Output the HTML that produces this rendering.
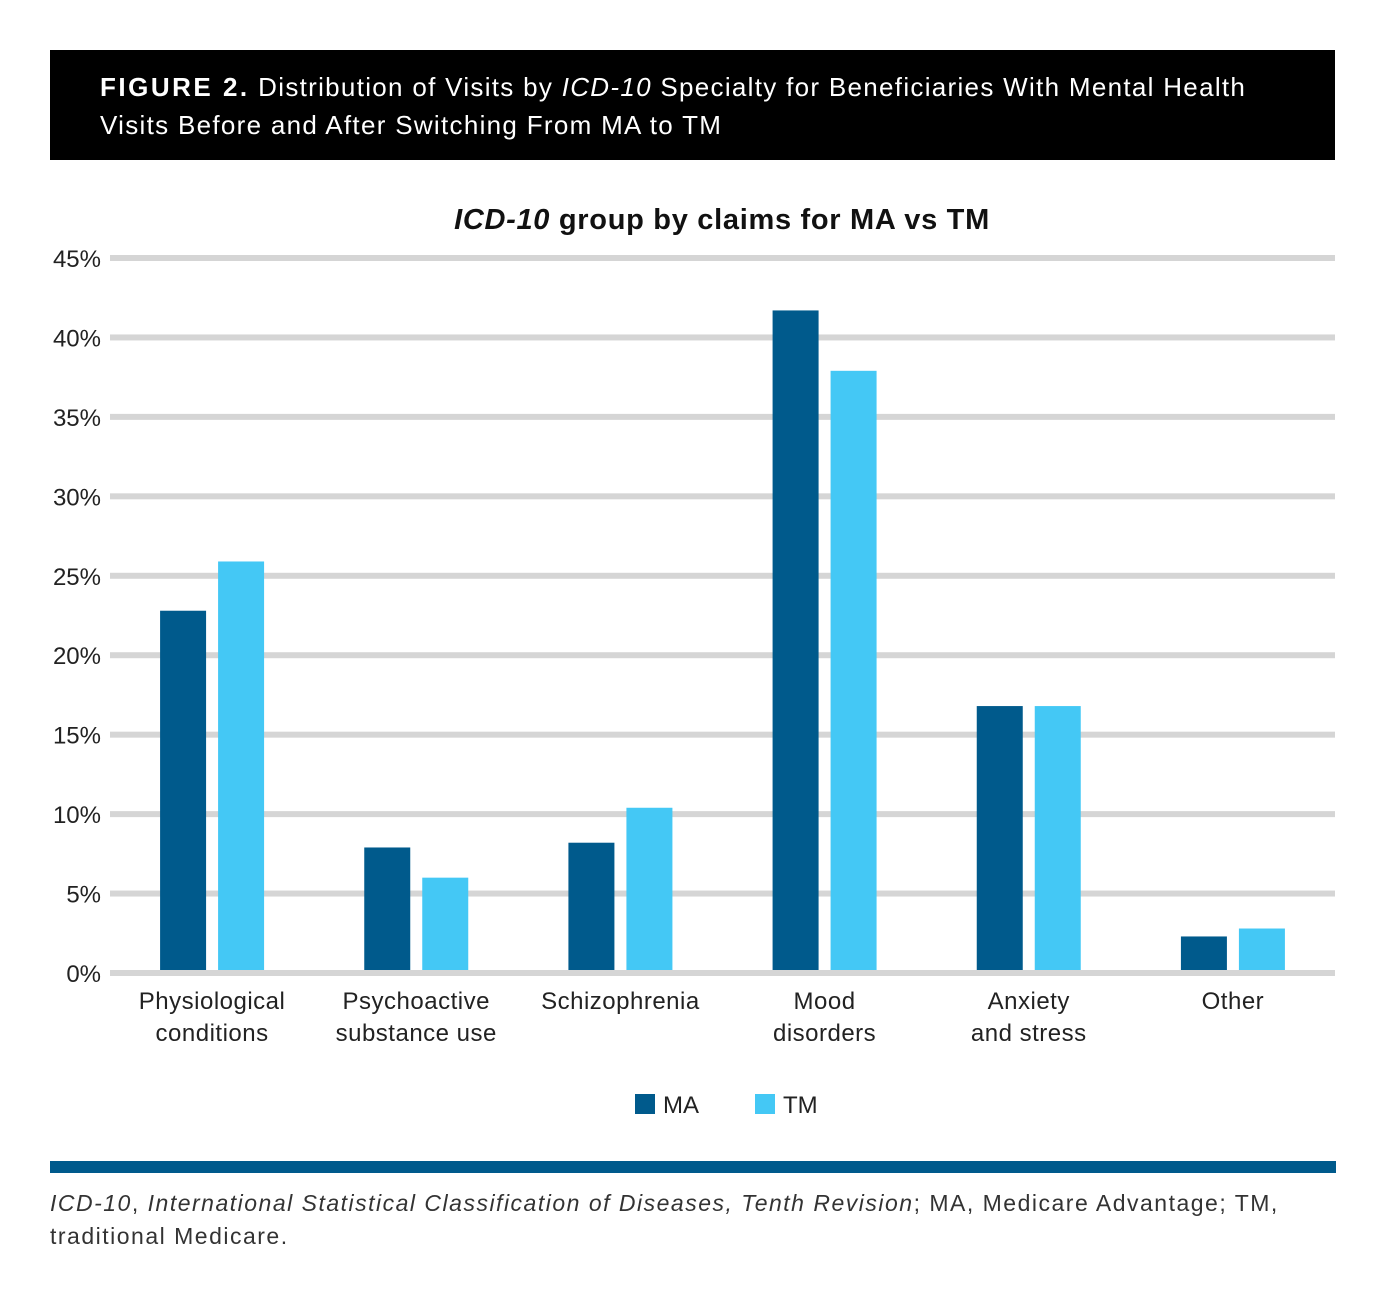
<!DOCTYPE html>
<html><head><meta charset="utf-8"><style>
body{margin:0;width:1386px;height:1313px;background:#fff;font-family:"Liberation Sans",sans-serif;position:relative;overflow:hidden}
#hdr{position:absolute;left:50px;top:50px;width:1285px;height:110px;background:#000;color:#fff;font-size:26px;line-height:38px;box-sizing:border-box;padding:18px 0 0 50px;letter-spacing:1.3px}
#rule{position:absolute;left:50px;top:1161px;width:1286px;height:12px;background:#005a8c}
#foot{position:absolute;left:50px;top:1187px;font-size:23px;line-height:33px;color:#333;letter-spacing:1.5px}
</style></head><body>
<div id="hdr"><b style="letter-spacing:2.5px">FIGURE 2.</b> Distribution of Visits by <i>ICD-10</i> Specialty for Beneficiaries With Mental Health<br>Visits Before and After Switching From MA to TM</div>
<svg id="chart" width="1386" height="1313" style="position:absolute;left:0;top:0"></svg>
<div id="rule"></div>
<div id="foot"><i>ICD-10</i>, <i>International Statistical Classification of Diseases, Tenth Revision</i>; MA, Medicare Advantage; TM,<br>traditional Medicare.</div>
<script>
const categories=[["Physiological","conditions"],["Psychoactive","substance use"],["Schizophrenia"],["Mood","disorders"],["Anxiety","and stress"],["Other"]];
const maValues=[22.8,7.9,8.2,41.7,16.8,2.3];
const tmValues=[25.9,6.0,10.4,37.9,16.8,2.8];
const yTicks=[0,5,10,15,20,25,30,35,40,45];
const NS="http://www.w3.org/2000/svg";
const svg=document.getElementById('chart');
const x0=110,x1=1335,y0=973,yTop=258;
const y=v=>y0-(v/45)*(y0-yTop);
const band=(x1-x0)/categories.length;
const cx=i=>x0+band*(i+0.5);
function mk(t,a){const e=document.createElementNS(NS,t);for(const k in a)e.setAttribute(k,a[k]);svg.appendChild(e);return e;}
let t=mk('text',{x:722,y:229,'text-anchor':'middle','font-size':29,'font-weight':'bold',fill:'#111','letter-spacing':'0.7'});


t.innerHTML='<tspan font-style="italic">ICD-10</tspan> group by claims for MA vs TM';
yTicks.forEach(v=>{
 const g=mk('rect',{x:x0,y:y(v)-3,width:x1-x0,height:6,fill:'#d5d5d5'});
 
 
 const l=mk('text',{x:101,y:y(v)+9,'text-anchor':'end','font-size':24,fill:'#222'});
 
 
 l.textContent=v+'%';
});
categories.forEach((c,i)=>{
 const m=mk('rect',{x:cx(i)-52,y:y(maValues[i]),width:46,height:y0-y(maValues[i])-3,fill:'#005a8c'});
 
 
 const tm=mk('rect',{x:cx(i)+6,y:y(tmValues[i]),width:46,height:y0-y(tmValues[i])-3,fill:'#44c8f5'});
 
 
 c.forEach((s,j)=>{
  const l=mk('text',{x:cx(i),y:1009+j*32,'text-anchor':'middle','font-size':24,fill:'#222','letter-spacing':'0.5'});
  
  
  l.textContent=s;
 });
});
[["MA","#005a8c",635],["TM","#44c8f5",755]].forEach(d=>{
 const r=mk('rect',{x:d[2],y:1094,width:20,height:20,fill:d[1]});
 
 
 const l=mk('text',{x:d[2]+28,y:1113,'font-size':24,fill:'#222'});
 
 
 l.textContent=d[0];
});
</script>
</body></html>
